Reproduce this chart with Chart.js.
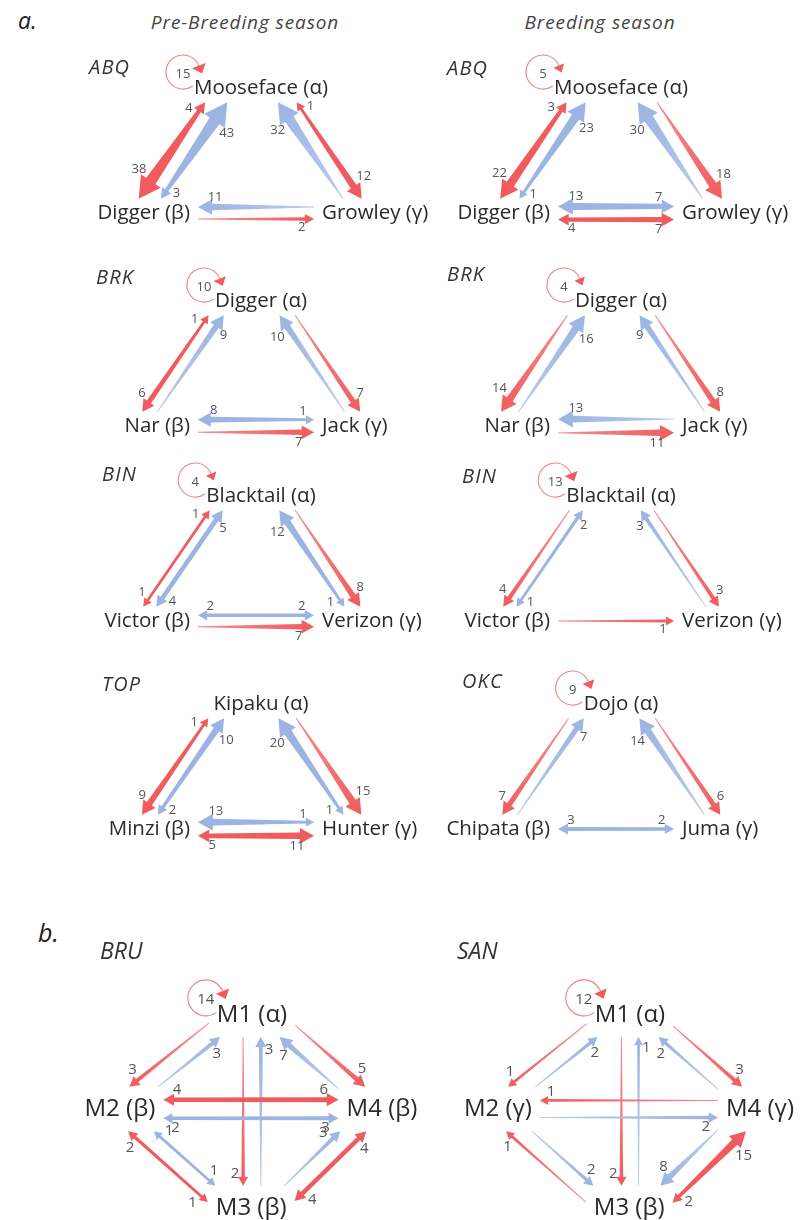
<!DOCTYPE html>
<html><head><meta charset="utf-8">
<script src="https://cdn.jsdelivr.net/npm/chart.js@4.4.0/dist/chart.umd.min.js"></script>
<style>
html,body{margin:0;padding:0;background:#fff;overflow:hidden;}
body{width:803px;height:1220px;position:relative;font-family:'Open Sans',sans-serif;}
.t{position:absolute;font-style:italic;color:#333;white-space:nowrap;line-height:1;}
canvas{position:absolute;}
</style></head><body>
<script>
// ---------------- DATA ----------------
const seasonTitles = ['Pre-Breeding season', 'Breeding season'];
const partLabels = ['a.', 'b.'];
const groupsA = ['ABQ', 'ABQ', 'BRK', 'BRK', 'BIN', 'BIN', 'TOP', 'OKC'];
const groupsB = ['BRU', 'SAN'];

const namesABQ = ['Mooseface (α)', 'Digger (β)', 'Growley (γ)'];
const namesBRK = ['Digger (α)', 'Nar (β)', 'Jack (γ)'];
const namesBIN = ['Blacktail (α)', 'Victor (β)', 'Verizon (γ)'];
const namesTOP = ['Kipaku (α)', 'Minzi (β)', 'Hunter (γ)'];
const namesOKC = ['Dojo (α)', 'Chipata (β)', 'Juma (γ)'];
const namesBRU = ['M1 (α)', 'M2 (β)', 'M3 (β)', 'M4 (β)'];
const namesSAN = ['M1 (α)', 'M2 (γ)', 'M3 (β)', 'M4 (γ)'];

// triangle pairs: α–β, α–γ, β–γ ; each [count arriving at first, count arriving at second]
const redABQpre  = [[4, 38], [1, 12], [0, 2]];
const blueABQpre = [[43, 3], [32, 0], [11, 0]];
const selfABQpre = 15;
const redABQbr   = [[3, 22], [0, 18], [4, 7]];
const blueABQbr  = [[23, 1], [30, 0], [13, 7]];
const selfABQbr  = 5;
const redBRKpre  = [[1, 6], [0, 7], [0, 7]];
const blueBRKpre = [[9, 0], [10, 0], [8, 1]];
const selfBRKpre = 10;
const redBRKbr   = [[0, 14], [0, 8], [0, 11]];
const blueBRKbr  = [[16, 0], [9, 0], [13, 0]];
const selfBRKbr  = 4;
const redBINpre  = [[1, 1], [0, 8], [0, 7]];
const blueBINpre = [[5, 4], [12, 1], [2, 2]];
const selfBINpre = 4;
const redBINbr   = [[0, 4], [0, 3], [0, 1]];
const blueBINbr  = [[2, 1], [3, 0], [0, 0]];
const selfBINbr  = 13;
const redTOPpre  = [[1, 9], [0, 15], [5, 11]];
const blueTOPpre = [[10, 2], [20, 1], [13, 1]];
const selfTOPpre = 0;
const redOKCbr   = [[0, 7], [0, 6], [0, 0]];
const blueOKCbr  = [[7, 0], [14, 0], [3, 2]];
const selfOKCbr  = 9;

// diamond pairs: M1–M2, M1–M4, M1–M3, M2–M4, M2–M3, M3–M4 (node order M1, M2, M3, M4)
const redBRU  = [[0, 3], [0, 5], [0, 2], [4, 6], [2, 1], [4, 4]];
const blueBRU = [[3, 0], [7, 0], [3, 0], [2, 3], [1, 1], [0, 3]];
const selfBRU = 14;
const redSAN  = [[0, 1], [0, 3], [0, 2], [1, 0], [1, 0], [2, 15]];
const blueSAN = [[2, 0], [2, 0], [1, 0], [0, 2], [0, 2], [8, 0]];
const selfSAN = 12;

// ---------------- STYLE / LAYOUT ----------------
const RED = [240, 92, 94];
const BLUE = [156, 180, 226];
const NODE_COLOR = '#2a2a2a';
const NUM_COLOR = '#555';
const FONT = '"Open Sans", "DejaVu Sans", sans-serif';

const TRI = {
  unit: 2.22, origin: [140, 171], size: [440, 207],
  hubs: [[50.5, 73.4], [0, 0], [100, 0]],
  labels: [[54.5, 56.3, 'center'], [22.5, 0, 'right'], [82, 0, 'left']],
  pairs: [[0, 1], [0, 2], [1, 2]],
  redSide: [1, -1, 1],
  font: 20.5, numFont: 13, mx: 8, my: 3, minW: 130, gap: 7,
  loop: { dx: -11, dy: -16, r: 17 }
};
const DIA = {
  unit: 2.6, origin: [116, 149], size: [425, 260],
  hubs: [[52.3, 41.9], [0, 0], [52.3, -46.5], [100, 0]],
  labels: [[52.3, 36.2, 'center'], [1.5, 0, 'center'], [52, -38.1, 'center'], [102.3, 0, 'center']],
  pairs: [[0, 1], [0, 3], [0, 2], [1, 3], [1, 2], [2, 3]],
  redSide: [1, -1, 1, -1, 1, 1],
  font: 24, numFont: 15, mx: 8, my: 9, minW: 0, gap: 14,
  loop: { dx: -11, dy: -17, r: 18 }
};

const panelsA = [
  { names: namesABQ, red: redABQpre, blue: blueABQpre, self: selfABQpre },
  { names: namesABQ, red: redABQbr,  blue: blueABQbr,  self: selfABQbr },
  { names: namesBRK, red: redBRKpre, blue: blueBRKpre, self: selfBRKpre },
  { names: namesBRK, red: redBRKbr,  blue: blueBRKbr,  self: selfBRKbr },
  { names: namesBIN, red: redBINpre, blue: blueBINpre, self: selfBINpre },
  { names: namesBIN, red: redBINbr,  blue: blueBINbr,  self: selfBINbr },
  { names: namesTOP, red: redTOPpre, blue: blueTOPpre, self: selfTOPpre },
  { names: namesOKC, red: redOKCbr,  blue: blueOKCbr,  self: selfOKCbr }
];
const panelsB = [
  { names: namesBRU, red: redBRU, blue: blueBRU, self: selfBRU },
  { names: namesSAN, red: redSAN, blue: blueSAN, self: selfSAN }
];
const colLeftA = [0, 360];
const rowTopA = [42, 255, 450, 658];
const titleXA = [[89, 447], [96, 447], [102, 462], [102, 462]];
const titleYA = [[67, 68], [277, 274], [474, 476], [684, 681]];
const colLeftB = [0, 378];
const topB = 960;

// ---------------- HELPERS ----------------
function rgba(c, a) { return `rgba(${c[0]},${c[1]},${c[2]},${a})`; }
function lighten(c, f) { return c.map(v => Math.round(v + (255 - v) * f)); }
function wid(v) { return v > 0 ? 1.2 + 1.6 * Math.sqrt(v) : 0.9; }
function headW(v) { return 1.8 * wid(v) + 4; }
function headL(v) { return 0.9 * headW(v); }

function slab(P, d, bx, mx, my) {
  let t0 = -Infinity, t1 = Infinity;
  const lo = [bx.x0 - mx, bx.y0 - my], hi = [bx.x1 + mx, bx.y1 + my];
  for (let i = 0; i < 2; i++) {
    if (Math.abs(d[i]) < 1e-9) { if (P[i] < lo[i] || P[i] > hi[i]) return null; }
    else {
      let a = (lo[i] - P[i]) / d[i], b = (hi[i] - P[i]) / d[i];
      if (a > b) { const s = a; a = b; b = s; }
      t0 = Math.max(t0, a); t1 = Math.min(t1, b);
    }
  }
  return t0 <= t1 ? [t0, t1] : null;
}

function drawArrow(ctx, P0, P1, v0, v1, col) {
  const dx = P1[0] - P0[0], dy = P1[1] - P0[1], L = Math.hypot(dx, dy);
  const u = [dx / L, dy / L], n = [-u[1], u[0]];
  const w0 = wid(v0), w1 = wid(v1);
  const l0 = v0 > 0 ? headL(v0) : 0, l1 = v1 > 0 ? headL(v1) : 0;
  const B0 = [P0[0] + u[0] * l0, P0[1] + u[1] * l0];
  const B1 = [P1[0] - u[0] * l1, P1[1] - u[1] * l1];
  const at = (p, s) => [p[0] + n[0] * s, p[1] + n[1] * s];
  const pts = [];
  if (v0 > 0) { pts.push(P0, at(B0, headW(v0) / 2), at(B0, w0 / 2)); } else { pts.push(at(P0, w0 / 2)); }
  if (v1 > 0) { pts.push(at(B1, w1 / 2), at(B1, headW(v1) / 2), P1, at(B1, -headW(v1) / 2), at(B1, -w1 / 2)); }
  else { pts.push(at(P1, w1 / 2), at(P1, -w1 / 2)); }
  if (v0 > 0) { pts.push(at(B0, -w0 / 2), at(B0, -headW(v0) / 2)); } else { pts.push(at(P0, -w0 / 2)); }
  const g = ctx.createLinearGradient(P0[0], P0[1], P1[0], P1[1]);
  const full = rgba(col, 1), light = rgba(lighten(col, 0.3), 1);
  g.addColorStop(0, v0 > 0 ? full : light);
  g.addColorStop(1, v1 > 0 ? full : light);
  ctx.fillStyle = g;
  ctx.beginPath();
  pts.forEach((p, i) => i ? ctx.lineTo(p[0], p[1]) : ctx.moveTo(p[0], p[1]));
  ctx.closePath();
  ctx.fill();
}

function netPlugin(tpl, panel) {
  return {
    id: 'net',
    afterDatasetsDraw(chart) {
      const ctx = chart.ctx, sx = chart.scales.x, sy = chart.scales.y;
      const px = p => [sx.getPixelForValue(p[0]), sy.getPixelForValue(p[1])];
      ctx.save();
      const nodeFont = `${tpl.font}px ${FONT}`, numFont = `${tpl.numFont}px ${FONT}`;
      ctx.font = nodeFont;
      const boxes = panel.names.map((nm, i) => {
        const lp = px(tpl.labels[i]), al = tpl.labels[i][2];
        const w = ctx.measureText(nm).width;
        const x0 = al === 'center' ? lp[0] - w / 2 : al === 'right' ? lp[0] - w : lp[0];
        const h = tpl.font * 0.55;
        const cw = Math.max(w, tpl.minW);
        const cx0 = al === 'center' ? lp[0] - cw / 2 : al === 'right' ? lp[0] - cw : lp[0];
        return { tx: lp[0], ty: lp[1], al, text: nm, x0, w,
                 clip: { x0: cx0, x1: cx0 + cw, y0: lp[1] - h, y1: lp[1] + h } };
      });
      const hubs = chart.data.datasets[0].data.map(d => px([d.x, d.y]));
      const numLabels = [];
      ctx.font = numFont;
      tpl.pairs.forEach((pr, k) => {
        const a = pr[0], b = pr[1];
        const rv = panel.red[k], bv = panel.blue[k];
        const A = hubs[a], B = hubs[b];
        const dx = B[0] - A[0], dy = B[1] - A[1], L = Math.hypot(dx, dy);
        const u = [dx / L, dy / L], n = [-u[1], u[0]];
        const rs = tpl.redSide[k];
        const hasR = rv[0] > 0 || rv[1] > 0, hasB = bv[0] > 0 || bv[1] > 0;
        const wr = Math.max(wid(rv[0]), wid(rv[1])), wb = Math.max(wid(bv[0]), wid(bv[1]));
        const sep = (hasR && hasB) ? (wr + wb) / 2 + tpl.gap : 0;
        const lines = [];
        if (hasR) lines.push({ v: rv, col: RED, off: rs * sep / 2, side: rs });
        if (hasB) lines.push({ v: bv, col: BLUE, off: -rs * sep / 2, side: -rs });
        lines.forEach(ln => {
          const A2 = [A[0] + n[0] * ln.off, A[1] + n[1] * ln.off];
          const ra = slab(A2, [dx, dy], boxes[a].clip, tpl.mx, tpl.my);
          const rb = slab(A2, [dx, dy], boxes[b].clip, tpl.mx, tpl.my);
          const t0 = ra ? Math.max(0, ra[1]) : 0, t1 = rb ? Math.min(1, rb[0]) : 1;
          const P0 = [A2[0] + dx * t0, A2[1] + dy * t0], P1 = [A2[0] + dx * t1, A2[1] + dy * t1];
          drawArrow(ctx, P0, P1, ln.v[0], ln.v[1], ln.col);
          [[P0, 1, ln.v[0]], [P1, -1, ln.v[1]]].forEach(([tip, dir, v]) => {
            if (!(v > 0)) return;
            const txt = String(v);
            const tw = ctx.measureText(txt).width, th = tpl.numFont * 0.75;
            const ext = Math.abs(n[0]) * tw / 2 + Math.abs(n[1]) * th / 2;
            const along = headL(v) + 3;
            const perp = (wid(v) / 2 + ext + 2) * ln.side;
            numLabels.push([txt, tip[0] + u[0] * dir * along + n[0] * perp, tip[1] + u[1] * dir * along + n[1] * perp]);
          });
        });
      });
      // self loop at top node
      if (panel.self > 0) {
        const bx = boxes[0];
        const cx = bx.x0 + tpl.loop.dx, cy = bx.ty + tpl.loop.dy, r = tpl.loop.r;
        const a0 = 55 * Math.PI / 180, a1 = 338 * Math.PI / 180;
        ctx.strokeStyle = rgba(lighten(RED, 0.25), 1); ctx.lineWidth = 1.2;
        ctx.beginPath(); ctx.arc(cx, cy, r, a0, a1, false); ctx.stroke();
        const E = [cx + r * Math.cos(a1), cy + r * Math.sin(a1)];
        const tg = [-Math.sin(a1), Math.cos(a1)], nn = [-tg[1], tg[0]];
        const hw = 10 + 0.3 * panel.self, hl = 7 + 0.1 * panel.self;
        ctx.fillStyle = rgba(RED, 1);
        ctx.beginPath();
        ctx.moveTo(E[0] + nn[0] * hw / 2, E[1] + nn[1] * hw / 2);
        ctx.lineTo(E[0] + tg[0] * hl, E[1] + tg[1] * hl);
        ctx.lineTo(E[0] - nn[0] * hw / 2, E[1] - nn[1] * hw / 2);
        ctx.closePath(); ctx.fill();
        numLabels.push([String(panel.self), cx, cy + 2]);
      }
      // numbers
      ctx.font = numFont; ctx.fillStyle = NUM_COLOR; ctx.textAlign = 'center'; ctx.textBaseline = 'middle';
      numLabels.forEach(l => ctx.fillText(l[0], l[1], l[2]));
      // node labels
      ctx.font = nodeFont; ctx.fillStyle = NODE_COLOR; ctx.textBaseline = 'middle';
      boxes.forEach(bx => { ctx.textAlign = bx.al; ctx.fillText(bx.text, bx.tx, bx.ty); });
      ctx.restore();
    }
  };
}

function makePanel(tpl, panel, left, top) {
  const cv = document.createElement('canvas');
  cv.width = tpl.size[0]; cv.height = tpl.size[1];
  cv.style.left = left + 'px'; cv.style.top = top + 'px';
  cv.style.width = tpl.size[0] + 'px'; cv.style.height = tpl.size[1] + 'px';
  document.body.appendChild(cv);
  const U = tpl.unit;
  new Chart(cv, {
    type: 'scatter',
    data: { datasets: [{ data: tpl.hubs.map(h => ({ x: h[0], y: h[1] })), pointRadius: 0, showLine: false }] },
    options: {
      responsive: false, animation: false, events: [], devicePixelRatio: 1,
      layout: { padding: 0 },
      plugins: { legend: { display: false }, tooltip: { enabled: false }, title: { display: false } },
      scales: {
        x: { type: 'linear', display: false, min: -tpl.origin[0] / U, max: (tpl.size[0] - tpl.origin[0]) / U },
        y: { type: 'linear', display: false, min: -(tpl.size[1] - tpl.origin[1]) / U, max: tpl.origin[1] / U }
      }
    },
    plugins: [netPlugin(tpl, panel)]
  });
}

function addText(txt, x, y, size, align, color, spacing) {
  const d = document.createElement('div');
  d.className = 't'; d.textContent = txt;
  d.style.left = x + 'px'; d.style.top = y + 'px'; d.style.fontSize = size + 'px';
  if (color) d.style.color = color;
  if (spacing) d.style.letterSpacing = spacing + 'px';
  d.style.transform = align === 'center' ? 'translate(-50%,-50%)' : 'translate(0,-50%)';
  document.body.appendChild(d);
}

// ---------------- BUILD ----------------
addText(partLabels[0], 18, 20, 23, 'left', '#222');
addText(seasonTitles[0], 245, 22, 19, 'center', '#444', 0.9);
addText(seasonTitles[1], 600, 22, 19, 'center', '#444', 0.9);
panelsA.forEach((p, i) => {
  const row = Math.floor(i / 2), col = i % 2;
  makePanel(TRI, p, colLeftA[col], rowTopA[row]);
  addText(groupsA[i], titleXA[row][col], titleYA[row][col], 20, 'left', '#333', 1.2);
});
addText(partLabels[1], 38, 932, 25, 'left', '#222');
panelsB.forEach((p, i) => {
  makePanel(DIA, p, colLeftB[i], topB);
});
addText(groupsB[0], 100, 950, 23, 'left', '#333');
addText(groupsB[1], 457, 950, 23, 'left', '#333');
</script>
</body></html>
